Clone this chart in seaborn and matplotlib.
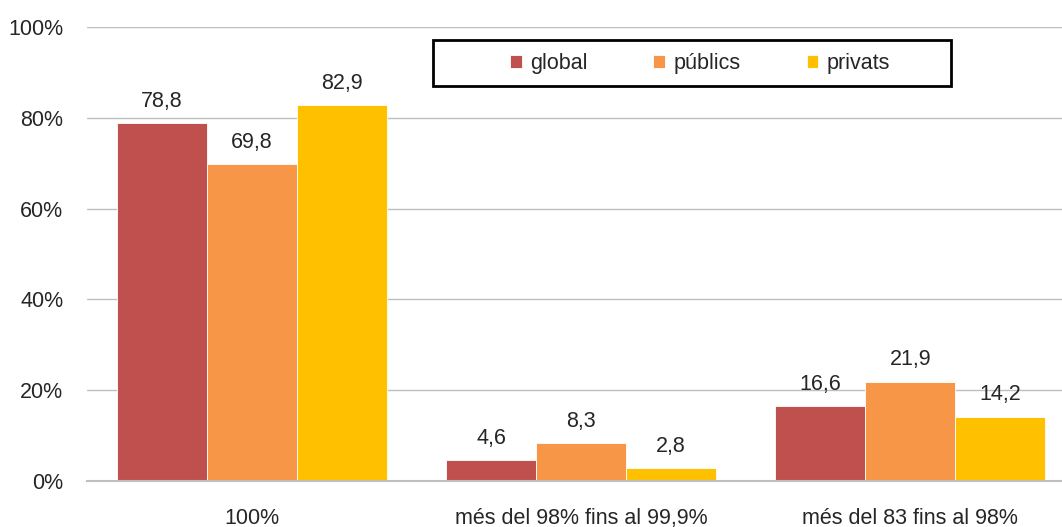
import seaborn as sns
import matplotlib.pyplot as plt
import pandas as pd
from matplotlib.patches import Rectangle

categories = ['100%', 'més del 98% fins al 99,9%', 'més del 83 fins al 98%']
series = ['global', 'públics', 'privats']
global_vals = [78.8, 4.6, 16.6]
publics_vals = [69.8, 8.3, 21.9]
privats_vals = [82.9, 2.8, 14.2]
colors = ['#C0504D', '#F79646', '#FFC000']

# long-format table for seaborn
df = pd.DataFrame({
    'categoria': categories * 3,
    'serie': [s for s in series for _ in categories],
    'valor': global_vals + publics_vals + privats_vals,
})

sns.set_style('white')
plt.rcParams['font.family'] = ['Liberation Sans', 'DejaVu Sans']
fs = 15.5

W, H = 1062, 527
fig = plt.figure(figsize=(W / 100, H / 100), dpi=100)
ax = fig.add_axes([87 / W, 46 / H, 988 / W, 454 / H])

sns.barplot(data=df, x='categoria', y='valor', hue='serie', palette=colors,
            width=0.82, gap=0, saturation=1, edgecolor='white', linewidth=0.6, ax=ax)

ax.set_ylim(0, 100)
ax.set_xlim(-0.5, 2.5)
ax.set_yticks(range(0, 101, 20))
ax.set_yticklabels([f'{v}%' for v in range(0, 101, 20)], fontsize=fs)
ax.tick_params(axis='x', labelsize=fs, pad=19.5, length=0)
ax.tick_params(axis='y', length=0, pad=17)
ax.set_xlabel('')
ax.set_ylabel('')
ax.grid(axis='y', color='#BFBFBF', linewidth=1)
ax.set_axisbelow(True)
for s in ['left', 'right', 'top']:
    ax.spines[s].set_visible(False)
ax.spines['bottom'].set_color('#BFBFBF')
ax.spines['bottom'].set_linewidth(1.5)

for cont in ax.containers:
    ax.bar_label(cont, labels=[f'{v:.1f}'.replace('.', ',') for v in cont.datavalues],
                 padding=8, fontsize=fs)

# legend without its own frame; box drawn separately
ax.legend(loc='center', bbox_to_anchor=(700 / W, 1 - 64 / H),
          bbox_transform=fig.transFigure, ncol=3, fontsize=fs, frameon=False,
          handlelength=0.55, handleheight=0.55, handletextpad=0.4,
          columnspacing=3.05, borderpad=0)
fig.patches.append(Rectangle((433 / W, 1 - 86 / H), 518 / W, 46 / H,
                             transform=fig.transFigure, fill=False,
                             edgecolor='black', linewidth=2, zorder=5))

fig.savefig('out.png', dpi=100)
